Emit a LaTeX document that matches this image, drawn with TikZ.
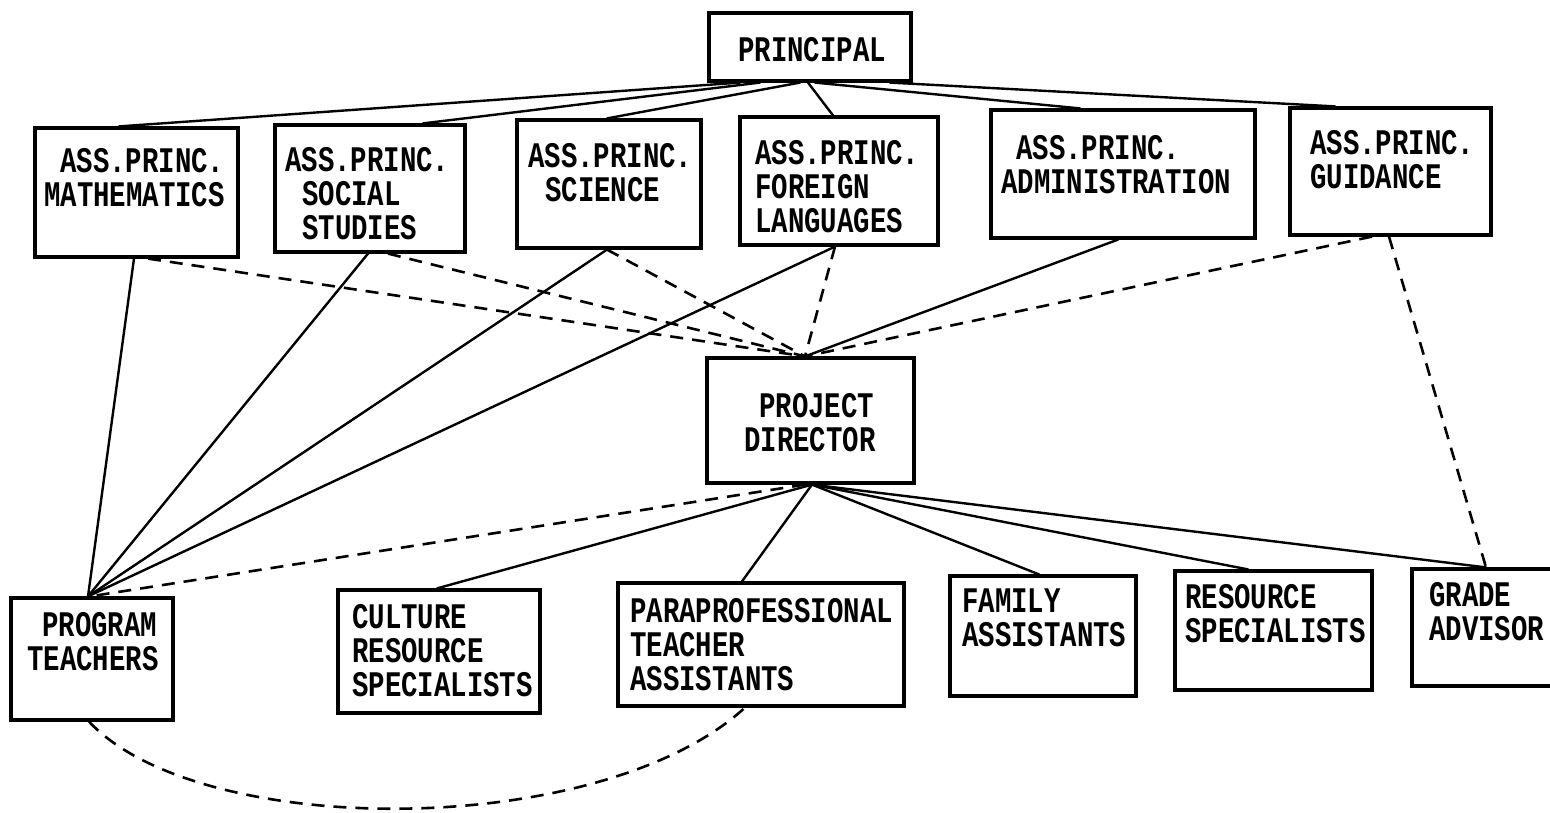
\documentclass[tikz,border=0pt]{standalone}
\usepackage{fontspec}
\setmonofont[FakeStretch=0.76]{Liberation Mono}
\begin{document}
\begin{tikzpicture}[x=1pt,y=-1pt,
  box/.style={draw, line width=3.2pt, rectangle, inner sep=0pt},
  lbl/.style={inner sep=0pt, anchor=north west, align=left,
    font=\ttfamily\bfseries\fontsize{36}{34}\selectfont},
  conn/.style={line width=2.4pt, line cap=round},
  dconn/.style={line width=2.6pt, dash pattern=on 13pt off 9pt}]
\useasboundingbox (0,0) rectangle (1550,813);

% boxes
\node[box, minimum width=202pt, minimum height=68pt]  (prin) at (810,47) {};
\node[box, minimum width=203pt, minimum height=129pt] (math) at (136.5,192.5) {};
\node[box, minimum width=190pt, minimum height=127pt] (soc)  at (370,188.5) {};
\node[box, minimum width=184pt, minimum height=128pt] (sci)  at (609,184) {};
\node[box, minimum width=198pt, minimum height=128pt] (for)  at (839,181) {};
\node[box, minimum width=264pt, minimum height=128pt] (adm)  at (1123,174) {};
\node[box, minimum width=201pt, minimum height=127pt] (gui)  at (1390.5,171.5) {};
\node[box, minimum width=207pt, minimum height=125pt] (pd)   at (810.5,420.5) {};
\node[box, minimum width=162pt, minimum height=122pt] (pt)   at (92,659) {};
\node[box, minimum width=202pt, minimum height=123pt] (cul)  at (439,651.5) {};
\node[box, minimum width=286pt, minimum height=123pt] (para) at (761,644.5) {};
\node[box, minimum width=186pt, minimum height=120pt] (fam)  at (1043,636) {};
\node[box, minimum width=197pt, minimum height=119pt] (res)  at (1273.5,630.5) {};
\node[box, minimum width=148pt, minimum height=117pt] (gra)  at (1486,627.5) {};

% labels
\node[lbl] (prinT) at (738,37)  {PRINCIPAL};
\node[lbl] (mathT) at (44,148)  {\hspace*{16pt}ASS.PRINC.\\MATHEMATICS};
\node[lbl] (socT)  at (285,147) {ASS.PRINC.\\\hspace*{17pt}SOCIAL\\\hspace*{17pt}STUDIES};
\node[lbl] (sciT)  at (528,143) {ASS.PRINC.\\\hspace*{17pt}SCIENCE};
\node[lbl] (forT)  at (755,140) {ASS.PRINC.\\FOREIGN\\LANGUAGES};
\node[lbl] (admT)  at (1001,135) {\hspace*{15pt}ASS.PRINC.\\ADMINISTRATION};
\node[lbl] (guiT)  at (1310,130) {ASS.PRINC.\\GUIDANCE};
\node[lbl] (pdT)   at (744,393) {\hspace*{15pt}PROJECT\\DIRECTOR};
\node[lbl] (ptT)   at (27,612)  {\hspace*{15pt}PROGRAM\\TEACHERS};
\node[lbl] (culT)  at (352,604) {CULTURE\\RESOURCE\\SPECIALISTS};
\node[lbl] (paraT) at (630,598) {PARAPROFESSIONAL\\TEACHER\\ASSISTANTS};
\node[lbl] (famT)  at (962,589) {FAMILY\\ASSISTANTS};
\node[lbl] (resT)  at (1185,584) {RESOURCE\\SPECIALISTS};
\node[lbl] (graT)  at (1429,582) {GRADE\\ADVISOR};

% principal to assistant principals
\draw[conn] ([xshift=-70pt]prin.south) -- ([xshift=-17.5pt]math.north);
\draw[conn] ([xshift=-50pt]prin.south) -- ([xshift=53pt]soc.north);
\draw[conn] ([xshift=-10pt]prin.south) -- ([xshift=-2pt]sci.north);
\draw[conn] ([xshift=-2pt]prin.south)  -- ([xshift=-6pt]for.north);
\draw[conn] ([xshift=5pt]prin.south)   -- ([xshift=-43pt]adm.north);
\draw[conn] ([xshift=80pt]prin.south)  -- ([xshift=-55.5pt]gui.north);

% assistant principals to project director
\draw[dconn] ([xshift=11.5pt]math.south) -- ([xshift=-5.5pt]pd.north);
\draw[dconn] ([xshift=18pt]soc.south)    -- ([xshift=-5.5pt]pd.north);
\draw[dconn] ([xshift=-2pt]sci.south)    -- ([xshift=-5.5pt]pd.north);
\draw[dconn] ([xshift=-4pt]for.south)    -- ([xshift=-5.5pt]pd.north);
\draw[conn]  ([xshift=-5pt]adm.south)    -- ([xshift=-5.5pt]pd.north);
\draw[dconn] ([xshift=-18.5pt]gui.south) -- ([xshift=-5.5pt]pd.north);
\draw[dconn] ([xshift=-1.5pt]gui.south)  -- (gra.north);

% assistant principals to program teachers
\draw[conn] ([xshift=-2.5pt]math.south) -- ([xshift=-4pt]pt.north);
\draw[conn] ([xshift=-2pt]soc.south)    -- ([xshift=-4pt]pt.north);
\draw[conn] ([xshift=-2pt]sci.south)    -- ([xshift=-4pt]pt.north);
\draw[conn] ([xshift=-4pt]for.south)    -- ([xshift=-4pt]pt.north);

% project director to staff
\draw[dconn] ([xshift=-5.5pt]pd.south) -- ([xshift=-2pt]pt.north);
\draw[conn] ([xshift=1.5pt]pd.south) -- ([xshift=-2pt]cul.north);
\draw[conn] ([xshift=1.5pt]pd.south) -- ([xshift=-19pt]para.north);
\draw[conn] ([xshift=1.5pt]pd.south) -- ([xshift=-4pt]fam.north);
\draw[conn] ([xshift=1.5pt]pd.south) -- ([xshift=-25.5pt]res.north);
\draw[conn] ([xshift=1.5pt]pd.south) -- (gra.north);

% program teachers to paraprofessionals
\draw[dconn] ([xshift=-3pt]pt.south) .. controls (200,840) and (600,840) .. ([xshift=-16pt]para.south);
\end{tikzpicture}
\end{document}
